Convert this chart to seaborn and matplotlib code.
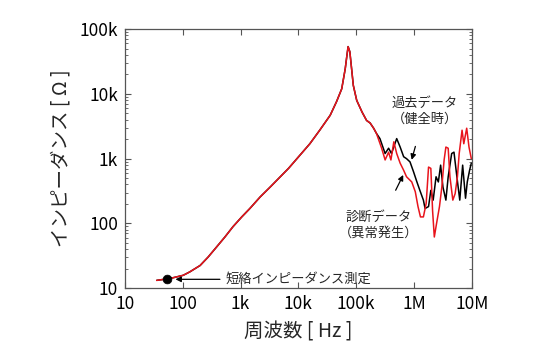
import matplotlib
matplotlib.use("Agg")
import matplotlib.pyplot as plt
import matplotlib.ticker as mticker
import numpy as np
import pandas as pd
import seaborn as sns

# shared part of both curves (Hz, ohm)
common_f = [35.5, 60, 102, 132, 200, 275, 389, 537, 741, 1050, 1450, 2190, 3240,
            6760, 15800, 23400, 35500, 45700, 56200, 64600, 69200, 72400, 77600,
            83200, 89100, 102000, 126000, 151000, 174000, 200000, 224000]
common_z = [13.2, 14.1, 15.8, 17.8, 22.4, 30.2, 43.7, 61.7, 89.1, 126, 170, 257, 363,
            708, 1700, 2750, 4680, 7590, 12000, 24500, 39800, 53700, 44700,
            24500, 13500, 7940, 5250, 3890, 3550, 2950, 2450]

# past data (healthy)
past_f = [257e3, 316e3, 363e3, 407e3, 501e3, 575e3, 661e3, 741e3, 851e3, 977e3,
          1.12e6, 1.26e6, 1.45e6, 1.55e6, 1.78e6, 1.95e6, 2.14e6, 2.40e6, 2.63e6,
          2.88e6, 3.16e6, 3.55e6, 3.89e6, 4.47e6, 4.90e6, 5.50e6, 6.17e6, 6.92e6,
          7.76e6, 8.32e6, 9.12e6, 9.77e6]
past_z = [2040, 1200, 1450, 1200, 2040, 1510, 1070, 1000, 891, 631,
          437, 324, 229, 170, 182, 324, 229, 525, 437,
          794, 363, 229, 525, 1200, 1260, 525, 229, 794,
          245, 437, 661, 851]

# diagnosis data (abnormal)
diag_f = [275e3, 316e3, 363e3, 398e3, 447e3, 501e3, 575e3, 661e3, 741e3, 912e3,
          1.05e6, 1.17e6, 1.29e6, 1.45e6, 1.62e6, 1.78e6, 1.95e6, 2.09e6, 2.24e6,
          2.45e6, 2.75e6, 3.02e6, 3.31e6, 3.55e6, 3.89e6, 4.17e6, 4.68e6, 5.13e6,
          5.62e6, 6.03e6, 6.76e6, 7.24e6, 8.13e6, 8.91e6, 9.77e6]
diag_z = [1450, 955, 1260, 955, 1820, 1200, 851, 661, 525, 437,
          309, 182, 126, 126, 204, 741, 708, 158, 61.7,
          100, 182, 363, 955, 1510, 1450, 525, 229, 288,
          525, 1200, 2750, 1700, 2950, 1510, 1000]

short_f = [54]
short_z = [13.8]

x_ticks = [10, 100, 1e3, 1e4, 1e5, 1e6, 1e7]
x_labels = ["10", "100", "1k", "10k", "100k", "1M", "10M"]
y_ticks = [10, 100, 1e3, 1e4, 1e5]
y_labels = ["10", "100", "1k", "10k", "100k"]

past = pd.DataFrame({"f": common_f + past_f, "z": common_z + past_z})
diag = pd.DataFrame({"f": common_f + diag_f, "z": common_z + diag_z})

sns.set_theme(style="ticks")
plt.rcParams["font.family"] = ["Noto Sans CJK JP", "DejaVu Sans"]

fig = plt.figure(figsize=(5.5, 3.51), dpi=100)
ax = fig.add_axes([0.227, 0.179, 0.631, 0.738])

sns.lineplot(data=past, x="f", y="z", ax=ax, color="black", lw=1.1,
             sort=False, estimator=None)
sns.lineplot(data=diag, x="f", y="z", ax=ax, color="#e8141c", lw=1.1,
             sort=False, estimator=None)
sns.scatterplot(x=short_f, y=short_z, ax=ax, color="black", s=40,
                edgecolor="black", zorder=5)

ax.set_xscale("log")
ax.set_yscale("log")
ax.set_xlim(10, 1e7)
ax.set_ylim(10, 1e5)
ax.xaxis.set_major_locator(mticker.FixedLocator(x_ticks))
ax.xaxis.set_major_formatter(mticker.FixedFormatter(x_labels))
ax.yaxis.set_major_locator(mticker.FixedLocator(y_ticks))
ax.yaxis.set_major_formatter(mticker.FixedFormatter(y_labels))
ax.xaxis.set_minor_locator(mticker.LogLocator(base=10, subs=np.arange(2, 10)))
ax.yaxis.set_minor_locator(mticker.LogLocator(base=10, subs=np.arange(2, 10)))
ax.xaxis.set_minor_formatter(mticker.NullFormatter())
ax.yaxis.set_minor_formatter(mticker.NullFormatter())
ax.tick_params(which="both", direction="in", top=True, right=True,
               colors="#555555", labelcolor="black", labelsize=12.5)
ax.tick_params(which="major", length=4, width=0.8, pad=5)
ax.tick_params(which="minor", length=2, width=0.6)
for s in ax.spines.values():
    s.set_color("#555555")
    s.set_linewidth(0.9)

ax.set_xlabel("周波数 [ Hz ]", fontsize=14, labelpad=6)
ax.set_ylabel("インピーダンス [ Ω ]", fontsize=14, labelpad=6)

ax.annotate("過去データ\n（健全時）", xy=(9.1e5, 960), xytext=(1.55e6, 5400),
            ha="center", va="center", fontsize=9.5, linespacing=1.3,
            arrowprops=dict(arrowstyle="-|>", color="black", lw=0.9,
                            mutation_scale=8, shrinkA=13, shrinkB=0))
ax.annotate("診断データ\n（異常発生）", xy=(6.5e5, 560), xytext=(2.4e5, 93),
            ha="center", va="center", fontsize=9.5, linespacing=1.3,
            arrowprops=dict(arrowstyle="-|>", color="black", lw=0.9,
                            mutation_scale=8, shrinkA=14, shrinkB=0))
ax.annotate("短絡インピーダンス測定", xy=(75, 13.7), xytext=(560, 13.7),
            ha="left", va="center", fontsize=9.5,
            arrowprops=dict(arrowstyle="-|>", color="black", lw=0.9,
                            mutation_scale=8, shrinkA=2, shrinkB=0))

fig.savefig("out.png", dpi=100)
